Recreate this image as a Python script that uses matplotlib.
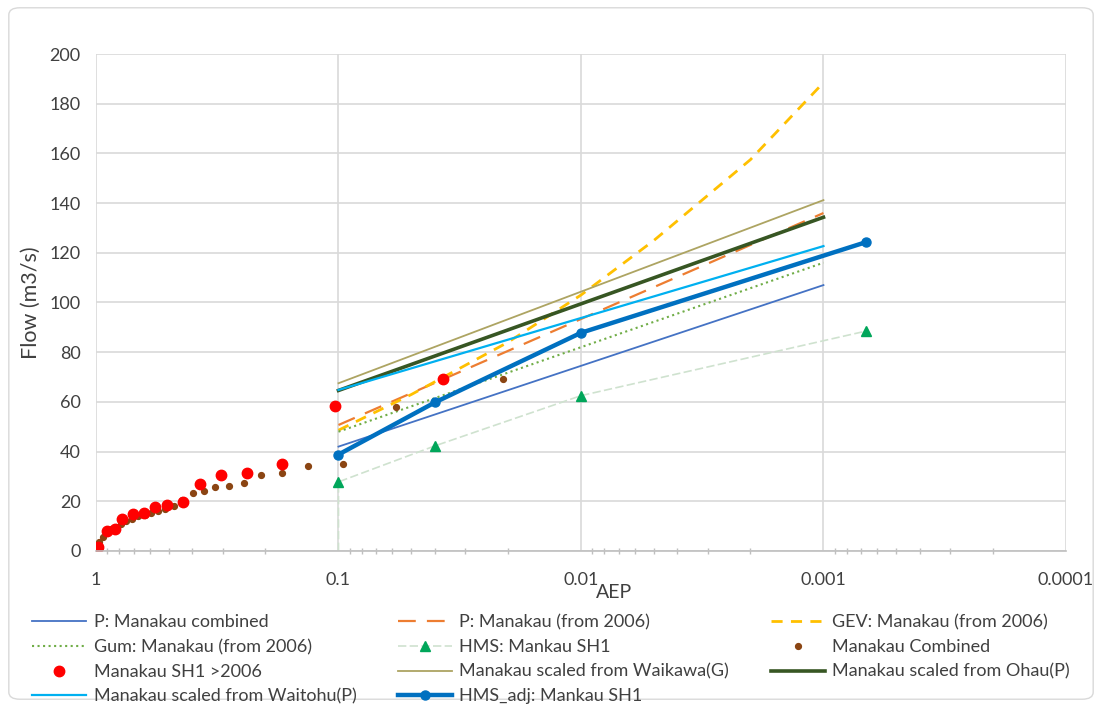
import numpy as np
import matplotlib
matplotlib.use("Agg")
import matplotlib.pyplot as plt
from matplotlib.patches import FancyBboxPatch

plt.rcParams['font.family'] = ['Lato', 'DejaVu Sans']

# ---- data ----
aep_fit = [0.1, 0.001]
p_combined = [42.0, 107.0]
p_2006 = [50.7, 136.0]
gum_2006 = [48.0, 116.0]
waikawa = [67.5, 141.2]
ohau = [64.6, 134.3]
waitohu = [64.8, 122.7]

aep_gev = [0.1, 0.05, 0.02, 0.01, 0.005, 0.002, 0.001]
gev_2006 = [48.6, 63.0, 84.0, 103.0, 125.0, 157.5, 188.5]

aep_hms = [0.1, 0.1, 0.04, 0.01, 0.000667]
hms = [0.0, 27.8, 42.3, 62.5, 88.5]
aep_hms_adj = [0.1, 0.04, 0.01, 0.000667]
hms_adj = [38.8, 59.8, 87.8, 124.3]

aep_sh1 = [0.98, 0.90, 0.838, 0.779, 0.703, 0.636, 0.573, 0.508, 0.438,
           0.371, 0.305, 0.238, 0.171, 0.103, 0.037]
sh1_2006 = [1.5, 8.0, 8.8, 12.9, 15.0, 15.3, 17.6, 18.3, 19.8,
            26.9, 30.5, 31.4, 35.0, 58.2, 69.3]

aep_comb = [0.021, 0.058, 0.096, 0.133, 0.171, 0.209, 0.246, 0.282, 0.322,
            0.358, 0.398, 0.44, 0.475, 0.52, 0.556, 0.595, 0.63, 0.67,
            0.71, 0.75, 0.79, 0.83, 0.865, 0.905, 0.94, 0.975]
combined = [69.1, 57.8, 35.0, 34.3, 31.3, 30.6, 27.2, 26.2, 25.9,
            24.1, 23.2, 20.5, 18.0, 17.0, 16.0, 15.4, 14.5, 14.0,
            13.0, 12.2, 11.0, 9.8, 8.8, 7.2, 5.5, 3.5]

x_ticks = [1, 0.1, 0.01, 0.001, 0.0001]
x_labels = ['1', '0.1', '0.01', '0.001', '0.0001']
y_ticks = list(range(0, 201, 20))

fig = plt.figure(figsize=(11.02, 7.07), dpi=100)
ax = fig.add_axes([0.0871, 0.2207, 0.8802, 0.7029])

h_pc, = ax.plot(aep_fit, p_combined, color='#4472C4', lw=1.3,
                label='P: Manakau combined')
h_p6, = ax.plot(aep_fit, p_2006, color='#ED7D31', lw=1.6,
                dashes=(8, 5), label='P: Manakau (from 2006)')
h_gev, = ax.plot(aep_gev, gev_2006, color='#FFC000', lw=2.0,
                 dashes=(4, 3), label='GEV: Manakau (from 2006)')
h_gum, = ax.plot(aep_fit, gum_2006, color='#70AD47', lw=1.5,
                 linestyle=':', label='Gum: Manakau (from 2006)')
h_hms, = ax.plot(aep_hms, hms, color='#cfe2cf', lw=1.2, dashes=(5, 2),
                 marker='^', markersize=6.5, markerfacecolor='#00A65A',
                 markeredgecolor='#00A65A', markevery=[1, 2, 3, 4],
                 label='HMS: Mankau SH1')
h_cmb, = ax.plot(aep_comb, combined, linestyle='none', marker='o',
                 markersize=4.2, color='#8B4513', label='Manakau Combined')
h_sh1, = ax.plot(aep_sh1, sh1_2006, linestyle='none', marker='o',
                 markersize=7.5, color='#FF0000', label='Manakau SH1 >2006')
h_wk, = ax.plot(aep_fit, waikawa, color='#ADA462', lw=1.3,
                label='Manakau scaled from Waikawa(G)')
h_oh, = ax.plot(aep_fit, ohau, color='#375623', lw=2.6,
                label='Manakau scaled from Ohau(P)')
h_wt, = ax.plot(aep_fit, waitohu, color='#00B0F0', lw=1.6,
                label='Manakau scaled from Waitohu(P)')
h_adj, = ax.plot(aep_hms_adj, hms_adj, color='#0070C0', lw=3.2,
                 marker='o', markersize=6.5, label='HMS_adj: Mankau SH1')

ax.set_xscale('log')
ax.set_xlim(1, 0.0001)
ax.set_ylim(0, 200)
ax.set_xticks(x_ticks)
ax.set_xticklabels(x_labels)
ax.set_yticks(y_ticks)
ax.tick_params(axis='both', which='major', length=0, labelsize=13,
               labelcolor='#404040')
ax.tick_params(axis='x', which='major', pad=15)
ax.tick_params(axis='y', which='major', pad=11)
ax.tick_params(axis='x', which='minor', direction='inout', length=5,
               color='#BFBFBF', width=1)
ax.tick_params(axis='x', which='minor', labelbottom=False)
ax.grid(True, which='major', color='#D9D9D9', lw=1.2)
ax.set_axisbelow(True)
for s in ['top', 'right', 'left']:
    ax.spines[s].set_visible(False)
ax.spines['bottom'].set_color('#BFBFBF')
ax.spines['bottom'].set_linewidth(1.2)

ax.set_ylabel('Flow (m3/s)', fontsize=15.5, color='#404040', labelpad=6)
fig.text(614 / 1102, 1 - 592 / 707, 'AEP', ha='center', va='center',
         fontsize=14, color='#404040')

# legend, filled column by column
handles = [h_pc, h_gum, h_sh1, h_wt,
           h_p6, h_hms, h_wk, h_adj,
           h_gev, h_cmb, h_oh]
leg = fig.legend(handles=handles, labels=[h.get_label() for h in handles],
                 ncol=3, loc='upper left',
                 bbox_to_anchor=(0.0145, 1 - 598 / 707),
                 bbox_transform=fig.transFigure, frameon=False, fontsize=13,
                 handlelength=3.0, handletextpad=0.4, columnspacing=2.3,
                 labelspacing=0.48, labelcolor='#404040')

border = FancyBboxPatch((0.008, 0.011), 0.984, 0.978,
                        boxstyle='round,pad=0,rounding_size=0.01',
                        transform=fig.transFigure, fill=False,
                        edgecolor='#D9D9D9', lw=1.0)
fig.patches.append(border)

fig.savefig('out.png', dpi=100)
